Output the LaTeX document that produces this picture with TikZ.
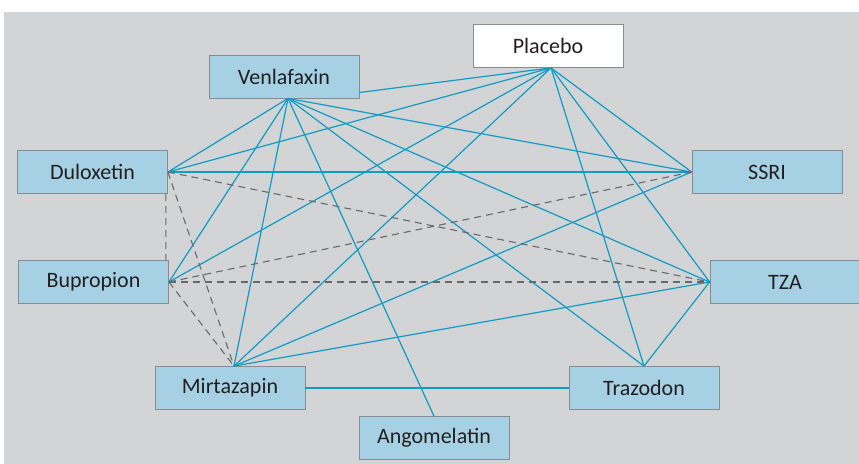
\documentclass[tikz,border=0pt]{standalone}
\usepackage{fontspec}
\setmainfont{Carlito}
\usepackage{tikz}
\definecolor{bggray}{RGB}{211,212,214}
\definecolor{boxblue}{RGB}{166,209,229}
\definecolor{boxedge}{RGB}{135,140,145}
\definecolor{linkblue}{RGB}{16,156,198}
\definecolor{dashgray}{RGB}{105,105,108}
\definecolor{txtdark}{RGB}{35,31,32}
\tikzset{
  drugnode/.style = {rectangle, align=center, inner sep=0pt, text centered,
    minimum width=150bp, minimum height=43bp, draw=boxedge, line width=0.8bp,
    text=txtdark, font=\fontsize{22bp}{26bp}\selectfont},
  drug_b/.style = {drugnode, fill=boxblue},% wirkstoff
  drug_p/.style = {drugnode, fill=white},% placebo
  cmp_s/.style = {draw=linkblue, line width=1.2bp},% direkter vergleich
  cmp_d/.style = {draw=dashgray, line width=1.1bp, dash pattern=on 7bp off 5bp}% indirekt
}
\begin{document}
\begin{tikzpicture}[x=1bp,y=-1bp]
\useasboundingbox (0,0) rectangle (859,464);
\fill [bggray] (4,12) rectangle (859,464);

\node [drug_p] (placebo) at (548,46) {Placebo};
\node [drug_b] (venla) at (284,76.5) {Venlafaxin};
\node [drug_b] (dulox) at (92.5,172) {Duloxetin};
\node [drug_b] (ssri) at (767,172) {SSRI};
\node [drug_b] (bupro) at (93.5,282) {Bupropion};
\node [drug_b] (tza) at (785,282) {TZA};
\node [drug_b] (mirta) at (230,388) {Mirtazapin};
\node [drug_b] (trazo) at (644,388) {Trazodon};
\node [drug_b] (agome) at (434,438) {Angomelatin};

\coordinate (venla_s) at ([xshift=4bp]venla.south);
\coordinate (placebo_s) at ([xshift=3bp]placebo.south);
\coordinate (mirta_n) at ([xshift=4bp]mirta.north);

% Venlafaxin
\draw [cmp_s] (venla.-12) -- (placebo_s);
\foreach \to in {dulox.east, bupro.east, mirta_n, agome.north, trazo.north, ssri.west, tza.west}
  \draw [cmp_s] (venla_s) -- (\to);
% Placebo
\foreach \to in {dulox.east, bupro.east, mirta_n, trazo.north, ssri.west, tza.west}
  \draw [cmp_s] (placebo_s) -- (\to);
\draw [cmp_s] (dulox.east) -- (ssri.west);
\draw [cmp_s] (mirta_n) -- (ssri.west);
\draw [cmp_s] (mirta_n) -- (tza.west);
\draw [cmp_s] (mirta.east) -- (trazo.west);
\draw [cmp_s] (trazo.north) -- (tza.west);

% indirekte vergleiche
\draw [cmp_d] ([xshift=-2bp]dulox.south east) -- ([xshift=-3bp]bupro.north east);
\draw [cmp_d] (dulox.east) -- (mirta_n);
\draw [cmp_d] (dulox.east) -- (tza.west);
\draw [cmp_d] (bupro.east) -- (ssri.west);
\draw [cmp_d] (bupro.east) -- (tza.west);
\draw [cmp_d] (bupro.east) -- (mirta_n);
\end{tikzpicture}
\end{document}
